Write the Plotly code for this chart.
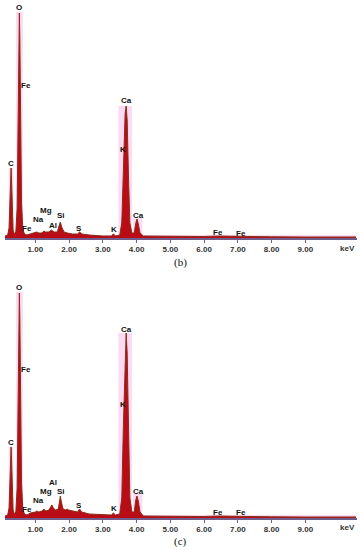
import plotly.graph_objects as go

# ---------------- data ----------------
# Spectrum (b): energy (keV) and counts (arbitrary units)
energy_b = [0.10, 0.18, 0.22, 0.25, 0.27, 0.28, 0.29, 0.31, 0.34, 0.38, 0.42, 0.46, 0.49, 0.51, 0.525, 0.54,
            0.56, 0.59, 0.63, 0.68, 0.75, 0.85, 1.00, 1.04, 1.10, 1.20, 1.25, 1.30, 1.40, 1.48, 1.55, 1.65,
            1.70, 1.74, 1.78, 1.85, 1.95, 2.10, 2.25, 2.31, 2.38, 2.60, 3.00, 3.25, 3.31, 3.38, 3.50, 3.56,
            3.61, 3.66, 3.69, 3.72, 3.76, 3.80, 3.86, 3.93, 3.97, 4.01, 4.05, 4.10, 4.20, 5.00, 6.00, 6.40,
            7.00, 8.00, 9.00, 10.50]
counts_b = [2, 3, 10, 40, 66, 70, 62, 30, 8, 4, 6, 30, 150, 215, 225, 200,
            120, 35, 8, 4, 3, 4, 5, 6, 5, 5, 7, 6, 6, 8, 6, 6,
            12, 16, 11, 6, 5, 4, 4, 6, 4, 3, 2, 2, 4, 2, 3, 15,
            70, 125, 132, 118, 60, 15, 5, 5, 14, 19, 14, 5, 2, 1.5, 1.5, 2,
            1.5, 1.2, 1, 1]

# Spectrum (c)
energy_c = [0.10, 0.18, 0.22, 0.25, 0.27, 0.28, 0.29, 0.31, 0.34, 0.38, 0.42, 0.46, 0.49, 0.51, 0.525, 0.54,
            0.56, 0.59, 0.63, 0.68, 0.75, 0.85, 1.00, 1.04, 1.10, 1.20, 1.25, 1.30, 1.40, 1.45, 1.49, 1.53,
            1.60, 1.68, 1.71, 1.74, 1.77, 1.82, 1.90, 1.94, 1.98, 2.10, 2.25, 2.31, 2.37, 2.60, 3.00, 3.25,
            3.31, 3.37, 3.50, 3.56, 3.61, 3.66, 3.69, 3.72, 3.76, 3.80, 3.86, 3.93, 3.97, 4.01, 4.05, 4.10,
            4.20, 5.00, 6.00, 6.40, 7.00, 8.00, 9.00, 10.50]
counts_c = [2, 3, 10, 40, 67, 71, 63, 30, 8, 4, 6, 30, 150, 215, 225, 200,
            120, 35, 8, 4, 3, 5, 6, 7, 6, 7, 9, 7, 8, 11, 13, 10,
            8, 9, 17, 22, 16, 9, 8, 9, 8, 7, 6, 9, 6, 4, 3, 3,
            5, 3, 4, 20, 95, 172, 185, 165, 85, 20, 6, 6, 17, 22, 17, 6,
            2, 1.5, 1.5, 2, 1.5, 1.2, 1, 1]

# Element labels: text, line energy (keV), label height (counts) for (b) and (c)
label_text = ["O", "Fe", "C", "Fe", "Na", "Mg", "Al", "Si", "S", "K", "Ca", "K", "Ca", "Fe", "Fe"]
label_energy = [0.525, 0.72, 0.28, 0.75, 1.09, 1.32, 1.52, 1.76, 2.29, 3.33, 3.69, 3.60, 4.05, 6.41, 7.09]
label_y_b = [230, 152, 74, 9, 18, 27, 12, 22, 9, 8, 137, 88, 22, 5, 4]
label_y_c = [231, 149, 76, 9, 18, 27, 36, 27, 13, 10, 189, 114, 27, 6, 6]

# Highlighted energy windows (ROI): centre, width, height
roi_center = [0.28, 0.53, 3.66, 4.03, 5.30]
roi_width = [0.14, 0.20, 0.40, 0.28, 10.4]
roi_height_b = [70, 226, 132, 20, 3]
roi_height_c = [71, 226, 185, 24, 3]

tick_vals = [1, 2, 3, 4, 5, 6, 7, 8, 9]
tick_text = ["1.00", "2.00", "3.00", "4.00", "5.00", "6.00", "7.00", "8.00", "9.00"]
unit_label = "keV"
unit_pos = 10.26
captions = ["(b)", "(c)"]

# ---------------- figure ----------------
FILL = "rgb(185,12,22)"
EDGE = "rgb(135,48,22)"
PINK = "rgb(252,218,244)"
AXIS = "rgb(110,95,140)"

fig = go.Figure()

panels = [
    ("x", "y", energy_b, counts_b, label_y_b, roi_height_b),
    ("x2", "y2", energy_c, counts_c, label_y_c, roi_height_c),
]

for xr, yr, en, ct, ly, rh in panels:
    fig.add_trace(go.Bar(x=roi_center, y=rh, width=roi_width, marker_color=PINK,
                         marker_line_width=0, xaxis=xr, yaxis=yr, showlegend=False, hoverinfo="skip"))
    fig.add_trace(go.Scatter(x=en, y=ct, mode="lines", fill="tozeroy", fillcolor=FILL,
                             line=dict(color=EDGE, width=1), xaxis=xr, yaxis=yr, showlegend=False))
    for t, e, yy in zip(label_text, label_energy, ly):
        fig.add_annotation(x=e, y=yy, xref=xr, yref=yr, text="<b>%s</b>" % t, showarrow=False,
                           xanchor="center", yanchor="middle",
                           font=dict(family="Liberation Sans, Arial", size=8, color="#111111"))

axis_common = dict(range=[0.1, 10.53], showgrid=False, zeroline=False, showline=True, linecolor=AXIS,
                   linewidth=1.5, ticks="outside", ticklen=3, tickcolor=AXIS, tickvals=tick_vals,
                   ticktext=["<b>%s</b>" % t for t in tick_text],
                   tickfont=dict(family="Liberation Sans, Arial", size=8, color="#333333"))
yaxis_common = dict(range=[0, 233], visible=False, showgrid=False, zeroline=False)

fig.update_layout(
    width=360, height=550, margin=dict(l=0, r=0, t=0, b=0),
    paper_bgcolor="white", plot_bgcolor="white", barmode="overlay",
    xaxis=dict(domain=[5 / 360, 357 / 360], anchor="y", **axis_common),
    yaxis=dict(domain=[1 - 238 / 550, 1 - 5 / 550], anchor="x", **yaxis_common),
    xaxis2=dict(domain=[5 / 360, 357 / 360], anchor="y2", **axis_common),
    yaxis2=dict(domain=[1 - 518 / 550, 1 - 285 / 550], anchor="x2", **yaxis_common),
)

for xr, ypix in (("x", 248), ("x2", 527)):
    fig.add_annotation(x=unit_pos, y=1 - ypix / 550, xref=xr, yref="paper", text="<b>%s</b>" % unit_label,
                       showarrow=False, xanchor="center", yanchor="middle",
                       font=dict(family="Liberation Sans, Arial", size=8, color="#333333"))

for cap, ypix in zip(captions, (262, 541)):
    fig.add_annotation(x=0.5, y=1 - ypix / 550, xref="paper", yref="paper", text=cap, showarrow=False,
                       xanchor="center", yanchor="middle",
                       font=dict(family="Liberation Serif, Times New Roman", size=11, color="#111111"))

fig.write_html("out.html", config={"displayModeBar": False},
               post_script="document.body.style.margin='0';document.body.style.overflow='hidden';")
